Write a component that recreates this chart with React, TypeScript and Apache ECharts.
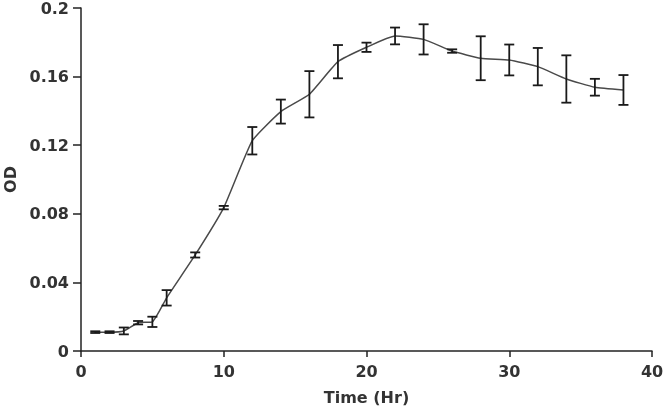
import React, { useEffect, useRef } from "react";
import * as echarts from "echarts";

const times = [1, 2, 3, 4, 5, 6, 8, 10, 12, 14, 16, 18, 20, 22, 24, 26, 28, 30, 32, 34, 36, 38];
const odMeans = [0.011, 0.011, 0.0117, 0.0165, 0.017, 0.031, 0.056, 0.0836, 0.1226, 0.1396, 0.1497, 0.1687, 0.1771, 0.1837, 0.1817, 0.1749, 0.1707, 0.1697, 0.1658, 0.1586, 0.1538, 0.1522];
const odErrors = [0.0005, 0.0005, 0.002, 0.001, 0.003, 0.0045, 0.0015, 0.001, 0.008, 0.007, 0.0135, 0.0097, 0.0027, 0.0049, 0.0088, 0.001, 0.0128, 0.009, 0.0109, 0.0138, 0.0049, 0.0087];
const yTicks = [0, 0.04, 0.08, 0.12, 0.16, 0.2];
const xTicks = [0, 10, 20, 30, 40];

const FONT = "DejaVu Sans";
const TEXT_COLOR = "#333333";

export default function App() {
  const ref = useRef<HTMLDivElement>(null);
  useEffect(() => {
    if (!ref.current) return;
    const chart = echarts.init(ref.current, null, { renderer: "svg" });
    const lineData = times.map((t, i) => [t, odMeans[i]]);
    const errData = times.map((t, i) => [t, odMeans[i] - odErrors[i], odMeans[i] + odErrors[i]]);
    chart.setOption({
      animation: false,
      grid: { left: 81, right: 15, top: 8, bottom: 60, containLabel: false, outerBoundsMode: "none" },
      xAxis: {
        type: "value",
        min: xTicks[0],
        max: xTicks[xTicks.length - 1],
        interval: 10,
        name: "Time (Hr)",
        nameLocation: "middle",
        nameGap: 38,
        nameTextStyle: { fontFamily: FONT, fontWeight: "bold", fontSize: 16, color: TEXT_COLOR },
        axisLine: { show: true, onZero: false, lineStyle: { color: "#222", width: 1.5 } },
        axisTick: { show: true, length: 6, inside: false, lineStyle: { color: "#222", width: 1.5 } },
        axisLabel: { margin: 12, fontFamily: FONT, fontWeight: "bold", fontSize: 16, color: TEXT_COLOR },
        splitLine: { show: false },
      },
      yAxis: {
        type: "value",
        min: yTicks[0],
        max: yTicks[yTicks.length - 1],
        interval: 0.04,
        name: "OD",
        nameLocation: "middle",
        nameGap: 60,
        nameRotate: 90,
        nameTextStyle: { fontFamily: FONT, fontWeight: "bold", fontSize: 16, color: TEXT_COLOR },
        axisLine: { show: true, lineStyle: { color: "#222", width: 1.5 } },
        axisTick: { show: true, length: 8, lineStyle: { color: "#222", width: 1.5 } },
        axisLabel: {
          margin: 12,
          fontFamily: FONT,
          fontWeight: "bold",
          fontSize: 16,
          color: TEXT_COLOR,
          formatter: (v: number) => String(+v.toFixed(2)),
        },
        splitLine: { show: false },
      },
      series: [
        {
          type: "line",
          data: lineData,
          smooth: 0.15,
          showSymbol: false,
          symbol: "none",
          lineStyle: { color: "#4a4a4a", width: 1.5 },
          z: 2,
        },
        {
          type: "custom",
          data: errData,
          z: 3,
          renderItem: (params: any, api: any) => {
            const x = api.value(0);
            const lo = api.coord([x, api.value(1)]);
            const hi = api.coord([x, api.value(2)]);
            const hw = 5;
            const style = { stroke: "#1a1a1a", lineWidth: 1.8 };
            return {
              type: "group",
              children: [
                { type: "line", shape: { x1: lo[0], y1: lo[1], x2: hi[0], y2: hi[1] }, style },
                { type: "line", shape: { x1: lo[0] - hw, y1: lo[1], x2: lo[0] + hw, y2: lo[1] }, style },
                { type: "line", shape: { x1: hi[0] - hw, y1: hi[1], x2: hi[0] + hw, y2: hi[1] }, style },
              ],
            };
          },
        },
      ],
    });
    return () => chart.dispose();
  }, []);
  return <div ref={ref} style={{ position: "fixed", left: 0, top: 0, width: 667, height: 411 }} />;
}
